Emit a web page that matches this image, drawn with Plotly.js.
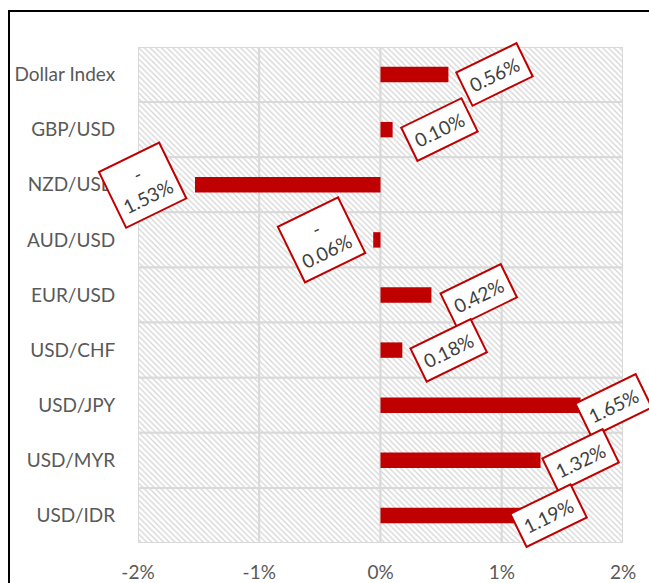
<!DOCTYPE html>
<html>
<head>
<meta charset="utf-8">
<script src="https://cdn.plot.ly/plotly-3.0.1.min.js"></script>
<style>
  html, body { margin: 0; padding: 0; background: #fff; }
  #wrap { position: relative; width: 649px; height: 583px; }
  #chart { position: absolute; left: 0; top: 0; width: 649px; height: 583px; }
  #frame { position: absolute; left: 8px; top: 10px; width: 660px; height: 600px;
           border-left: 2.5px solid #000; border-top: 2.5px solid #000; pointer-events: none; }
</style>
</head>
<body>
<div id="wrap">
  <div id="chart"></div>
  <div id="frame"></div>
</div>
<script>
// ---- data ----
const categories = ["Dollar Index", "GBP/USD", "NZD/USD", "AUD/USD", "EUR/USD", "USD/CHF", "USD/JPY", "USD/MYR", "USD/IDR"];
const changes = [0.56, 0.10, -1.53, -0.06, 0.42, 0.18, 1.65, 1.32, 1.19];
const xTicks = [-2, -1, 0, 1, 2];
const xTickLabels = ["-2%", "-1%", "0%", "1%", "2%"];

// ---- styling / layout constants ----
const labelShiftPx = [46, 47, -52, -52, 47, 46, 33, 40, 24];
const red = "#C00000";
const gridGray = "#d9d9d9";
const textFont = "Lato, 'Open Sans', sans-serif";

const traces = [];
// hatched background cells (one trace per grid column)
for (let k = 0; k < xTicks.length - 1; k++) {
  traces.push({
    type: "bar",
    orientation: "h",
    y: categories,
    x: categories.map(() => xTicks[k + 1] - xTicks[k]),
    base: categories.map(() => xTicks[k]),
    width: 1,
    marker: {
      color: "#ffffff",
      line: { color: gridGray, width: 2 },
      pattern: { shape: "\\", fgcolor: "#d4d4d4", bgcolor: "#ffffff", size: 4, solidity: 0.3 }
    },
    hoverinfo: "skip",
    showlegend: false
  });
}
// data bars
traces.push({
  type: "bar",
  orientation: "h",
  y: categories,
  x: changes,
  width: 0.28,
  marker: { color: red, line: { width: 0 } },
  showlegend: false,
  hoverinfo: "x+y"
});

const annotations = changes.map((v, i) => ({
  x: v,
  y: categories[i],
  xref: "x",
  yref: "y",
  text: v < 0 ? "-<br>" + Math.abs(v).toFixed(2) + "%" : v.toFixed(2) + "%",
  showarrow: false,
  xanchor: "center",
  yanchor: "middle",
  xshift: labelShiftPx[i],
  textangle: -26,
  bgcolor: "#ffffff",
  bordercolor: red,
  borderwidth: 2,
  borderpad: 6,
  font: { family: textFont, size: 19, color: "#404040" }
}));

const layout = {
  width: 649,
  height: 583,
  margin: { l: 138, r: 26, t: 47, b: 40 },
  paper_bgcolor: "#ffffff",
  plot_bgcolor: "#ffffff",
  barmode: "overlay",
  showlegend: false,
  xaxis: {
    range: [xTicks[0], xTicks[xTicks.length - 1]],
    tickvals: xTicks,
    ticktext: xTickLabels,
    showgrid: false,
    zeroline: false,
    showline: false,
    ticks: "outside",
    ticklen: 12,
    tickcolor: "rgba(0,0,0,0)",
    tickfont: { family: textFont, size: 19, color: "#595959" },
    fixedrange: true
  },
  yaxis: {
    type: "category",
    categoryorder: "array",
    categoryarray: categories,
    range: [categories.length - 0.5, -0.5],
    showgrid: false,
    zeroline: false,
    showline: false,
    ticks: "outside",
    ticklen: 18,
    tickcolor: "rgba(0,0,0,0)",
    tickfont: { family: textFont, size: 19, color: "#595959" },
    fixedrange: true
  },
  annotations: annotations
};

Plotly.newPlot("chart", traces, layout, { displayModeBar: false, staticPlot: true });
</script>
</body>
</html>
